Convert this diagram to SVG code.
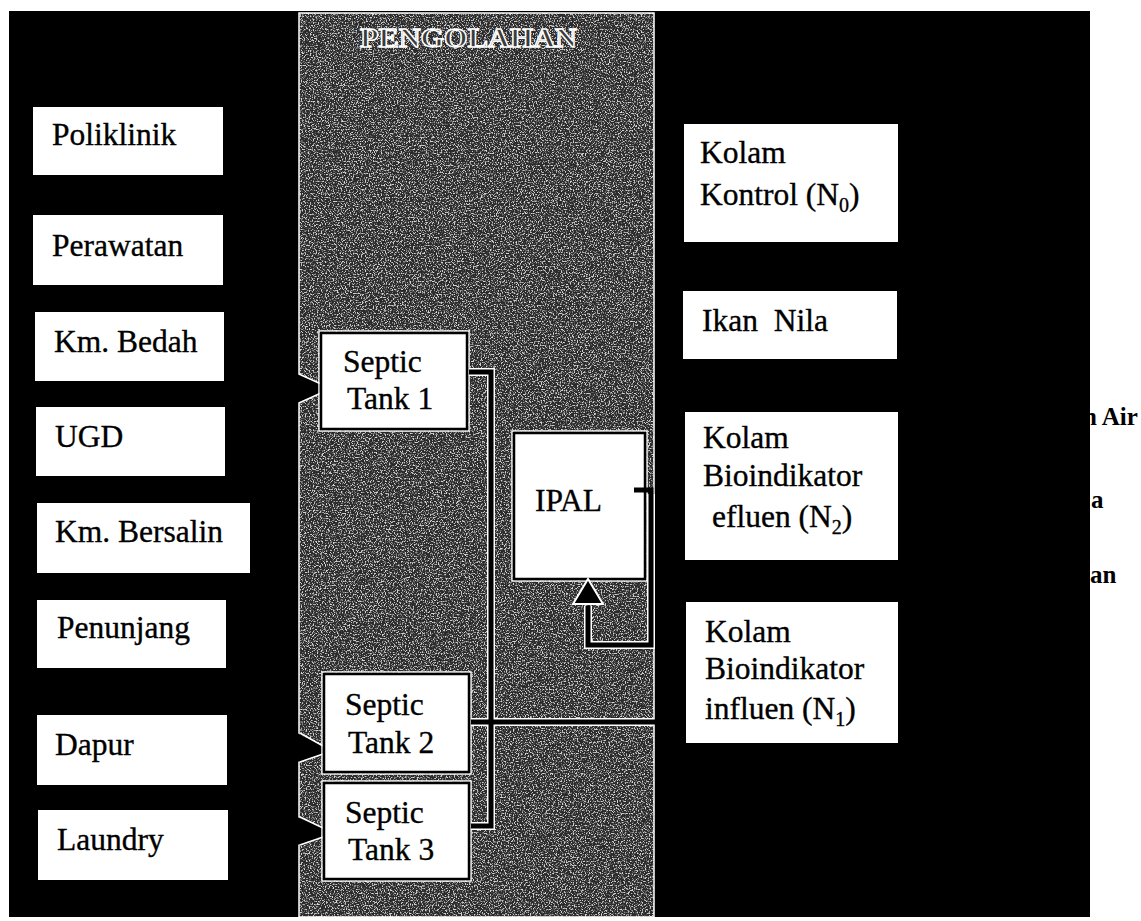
<svg xmlns="http://www.w3.org/2000/svg" width="1141" height="921" viewBox="0 0 1141 921">
<style>
.lbl{font-family:"Liberation Serif","Times New Roman",serif;font-size:31.5px;fill:#000;stroke:#000;stroke-width:0.35}
.leg{font-family:"Liberation Serif","Times New Roman",serif;font-size:25px;font-weight:bold;fill:#000}
.sub{font-size:20px}
.box{fill:#fff}
.tank{fill:#fff;stroke:#000;stroke-width:2.5}
.halo{fill:none;stroke:#fff;stroke-width:1.5}
.pipeO{fill:none;stroke:#fff;stroke-width:8;stroke-linejoin:miter}
.pipeI{fill:none;stroke:#000;stroke-width:5;stroke-linejoin:miter}
.edge{fill:none;stroke:#fff;stroke-width:1.5}
</style>
<defs>
<filter id="grain" x="0" y="0" width="1" height="1">
<feTurbulence type="fractalNoise" baseFrequency="0.75" numOctaves="2" seed="7"/>
<feColorMatrix type="matrix" values="0 0 0 0 1  0 0 0 0 1  0 0 0 0 1  5 0 0 0 -2.45"/>
</filter>
</defs>
<rect width="1141" height="921" fill="#fff"/>
<g id="legend-partial">
<text class="leg" x="1083" y="425">n Air</text>
<text class="leg" x="1091" y="508">a</text>
<text class="leg" x="1090" y="583">an</text>
</g>
<rect x="9" y="11" width="1081" height="906" fill="#000"/>
<g id="panel-pengolahan">
<rect x="299" y="13" width="355" height="904" fill="#2a2a2a"/>
<rect x="299" y="13" width="355" height="904" fill="#fff" filter="url(#grain)" opacity="0.8"/>
<rect x="299" y="13" width="355" height="904" class="edge"/>
<text x="360" y="47" font-family="Liberation Serif, Times New Roman, serif" font-size="28" font-weight="bold" textLength="217" lengthAdjust="spacingAndGlyphs" fill="#3a3a3a" stroke="#fff" stroke-width="1.4">PENGOLAHAN</text>
</g>
<g id="inlets">
<polygon points="297,374 321,384 321,393 297,403" fill="#000"/>
<polyline points="299,374 321,384" class="edge"/><polyline points="321,393 299,403" class="edge"/>
<polygon points="297,733 323,746 323,754 297,762" fill="#000"/>
<polyline points="300,733 323,746" class="edge"/><polyline points="323,754 300,762" class="edge"/>
<polygon points="297,817 323,828 323,837 297,845" fill="#000"/>
<polyline points="300,817 323,828" class="edge"/><polyline points="323,837 300,845" class="edge"/>
</g>
<g id="node-poliklinik"><rect class="box" x="33" y="107" width="190" height="68"/><text class="lbl" x="52" y="145">Poliklinik</text></g>
<g id="node-perawatan"><rect class="box" x="33" y="215" width="190" height="70"/><text class="lbl" x="52" y="256">Perawatan</text></g>
<g id="node-kmbedah"><rect class="box" x="35" y="312" width="189" height="69"/><text class="lbl" x="54" y="352">Km. Bedah</text></g>
<g id="node-ugd"><rect class="box" x="36" y="407" width="189" height="69"/><text class="lbl" x="55" y="447">UGD</text></g>
<g id="node-kmbersalin"><rect class="box" x="37" y="503" width="213" height="70"/><text class="lbl" x="55" y="542">Km. Bersalin</text></g>
<g id="node-penunjang"><rect class="box" x="37" y="600" width="189" height="68"/><text class="lbl" x="57" y="638">Penunjang</text></g>
<g id="node-dapur"><rect class="box" x="37" y="715" width="190" height="70"/><text class="lbl" x="55" y="755">Dapur</text></g>
<g id="node-laundry"><rect class="box" x="38" y="810" width="190" height="70"/><text class="lbl" x="57" y="850">Laundry</text></g>
<g id="node-septic1"><rect class="halo" x="319" y="331" width="150" height="100"/><rect class="tank" x="321" y="333" width="146" height="96"/><text class="lbl" x="343" y="372">Septic</text><text class="lbl" x="347" y="409">Tank 1</text></g>
<g id="node-septic2"><rect class="halo" x="322" y="672" width="149" height="102"/><rect class="tank" x="324" y="674" width="145" height="98"/><text class="lbl" x="345" y="715">Septic</text><text class="lbl" x="348" y="753">Tank 2</text></g>
<g id="node-septic3"><rect class="halo" x="322" y="781" width="149" height="100"/><rect class="tank" x="324" y="783" width="145" height="96"/><text class="lbl" x="345" y="823">Septic</text><text class="lbl" x="348" y="860">Tank 3</text></g>
<g id="node-ipal"><rect class="halo" x="512" y="431" width="135" height="150"/><rect class="tank" x="514" y="433" width="131" height="146"/><text class="lbl" x="535" y="511">IPAL</text></g>
<g id="node-kontrol"><rect class="box" x="684" y="124" width="214" height="118"/><text class="lbl" x="700" y="163">Kolam</text><text class="lbl" x="700" y="205">Kontrol (N<tspan class="sub" dy="7">0</tspan><tspan dy="-7">)</tspan></text></g>
<g id="node-ikannila"><rect class="box" x="683" y="291" width="214" height="68"/><text class="lbl" x="702" y="331" xml:space="preserve">Ikan  Nila</text></g>
<g id="node-efluen"><rect class="box" x="685" y="412" width="213" height="148"/><text class="lbl" x="703" y="448">Kolam</text><text class="lbl" x="703" y="486">Bioindikator</text><text class="lbl" x="712" y="527">efluen (N<tspan class="sub" dy="7">2</tspan><tspan dy="-7">)</tspan></text></g>
<g id="node-influen"><rect class="box" x="686" y="602" width="212" height="141"/><text class="lbl" x="705" y="642">Kolam</text><text class="lbl" x="705" y="679">Bioindikator</text><text class="lbl" x="705" y="719">influen (N<tspan class="sub" dy="7">1</tspan><tspan dy="-7">)</tspan></text></g>
<g id="connectors">
<path class="pipeO" d="M469,372 H491 V826 H471"/>
<path class="pipeO" d="M471,722 H654"/>
<path class="pipeO" d="M651,494 V645 H588 V606"/>
<path class="pipeI" d="M469,372 H491 V826 H471"/>
<path class="pipeI" d="M471,722 H660"/>
<path class="pipeI" d="M634,490 H651 V645 H588 V606"/>
<polygon points="573,604 603,604 588,579" fill="#000" stroke="#fff" stroke-width="2"/>
</g>
</svg>
